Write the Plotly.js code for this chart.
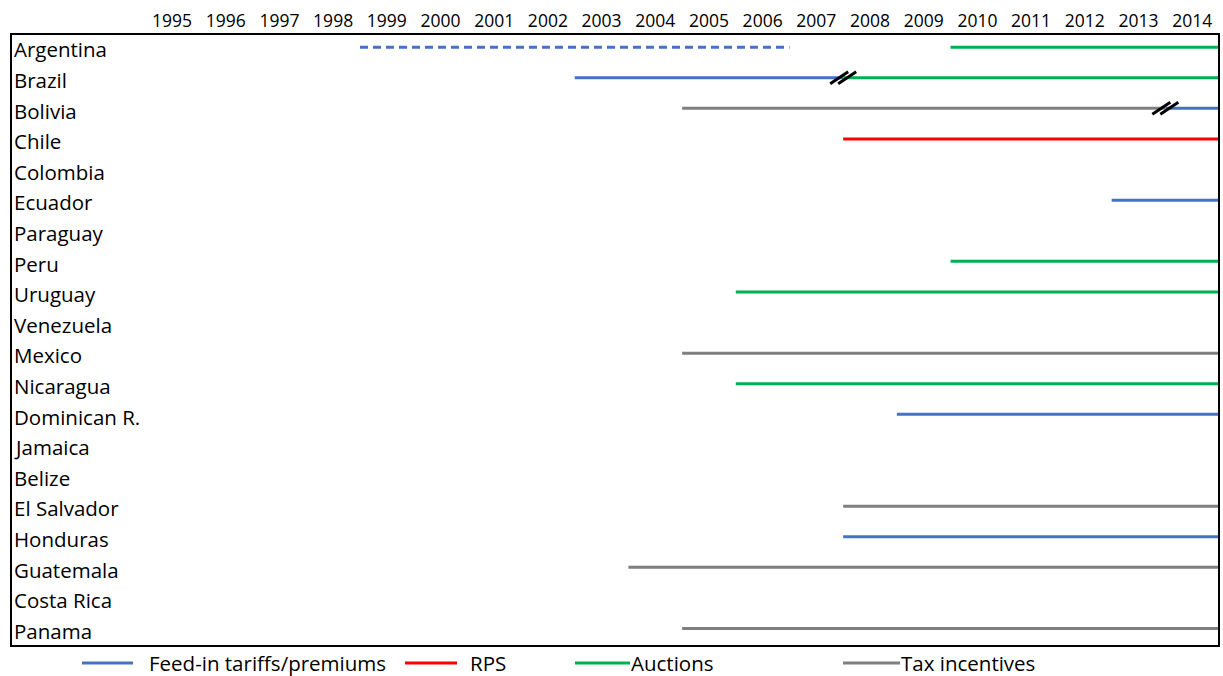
<!DOCTYPE html>
<html>
<head>
<meta charset="utf-8">
<script src="https://cdn.plot.ly/plotly-3.0.1.min.js"></script>
<style>html,body{margin:0;padding:0;background:#fff;}#chart{width:1223px;height:676px;}</style>
</head>
<body>
<div id="chart"></div>
<script>
// ---- data ----
const years = [1995,1996,1997,1998,1999,2000,2001,2002,2003,2004,2005,2006,2007,2008,2009,2010,2011,2012,2013,2014];
const countries = ["Argentina","Brazil","Bolivia","Chile","Colombia","Ecuador","Paraguay","Peru","Uruguay","Venezuela","Mexico","Nicaragua","Dominican R.","Jamaica","Belize","El Salvador","Honduras","Guatemala","Costa Rica","Panama"];
const policies = ["Feed-in tariffs/premiums","RPS","Auctions","Tax incentives"];
const segCountry = ["Argentina","Argentina","Brazil","Brazil","Bolivia","Bolivia","Chile","Ecuador","Peru","Uruguay","Mexico","Nicaragua","Dominican R.","El Salvador","Honduras","Guatemala","Panama"];
const segPolicy  = ["Feed-in tariffs/premiums","Auctions","Feed-in tariffs/premiums","Auctions","Tax incentives","Feed-in tariffs/premiums","RPS","Feed-in tariffs/premiums","Auctions","Auctions","Tax incentives","Auctions","Feed-in tariffs/premiums","Tax incentives","Feed-in tariffs/premiums","Tax incentives","Tax incentives"];
const segStart   = [1999,2010,2003,2008,2005,2014,2008,2013,2010,2006,2005,2006,2009,2008,2008,2004,2005];
const segEnd     = [2006,2014,2007,2014,2013,2014,2014,2014,2014,2014,2014,2014,2014,2014,2014,2014,2014];
const segDiscontinued = [true,false,false,false,false,false,false,false,false,false,false,false,false,false,false,false,false];
const breakCountry = ["Brazil","Bolivia"];
const breakYear    = [2008,2014];

// ---- styles ----
const colors = {"Feed-in tariffs/premiums":"#4472C4","RPS":"#FF0000","Auctions":"#00B050","Tax incentives":"#7F7F7F"};
const FONT = "'Open Sans', sans-serif";
const LABEL_SIZE = 20.5;
const lineOffset = -0.07;
const W = 1223, H = 676;
const M = {l:11, r:4, t:34, b:30};
const plotW = W - M.l - M.r, plotH = H - M.t - M.b;
const xRange = [1992, 2014.5], yRange = [19.5, -0.5];
const pxPerYear = plotW / (xRange[1]-xRange[0]);
const pxPerRow = plotH / 20;

const traces = [];
policies.forEach(p => {
  [false, true].forEach(disc => {
    const xs = [], ys = [];
    segCountry.forEach((c, i) => {
      if (segPolicy[i] !== p || segDiscontinued[i] !== disc) return;
      const r = countries.indexOf(c) + lineOffset;
      xs.push(segStart[i] - 0.5, segEnd[i] + 0.5, null);
      ys.push(r, r, null);
    });
    if (xs.length) traces.push({
      x: xs, y: ys, type: 'scatter', mode: 'lines', hoverinfo: 'skip', showlegend: false,
      line: {color: colors[p], width: 3, dash: disc ? '8px,5px' : 'solid'}
    });
  });
});
// break marks
const bx = [], by = [];
const halfW = 9 / pxPerYear, halfH = 6 / pxPerRow, gap = 4 / pxPerYear;
breakCountry.forEach((c, i) => {
  const r = countries.indexOf(c) + lineOffset;
  const x0 = breakYear[i] - 0.5;
  [-gap, gap].forEach(g => {
    bx.push(x0 + g - halfW, x0 + g + halfW, null);
    by.push(r + halfH, r - halfH, null);
  });
});
traces.push({x: bx, y: by, type: 'scatter', mode: 'lines', hoverinfo: 'skip', showlegend: false,
  line: {color: '#000', width: 3}});

const annotations = countries.map((c, i) => ({
  text: c, xref: 'paper', x: 0, xanchor: 'left', xshift: 1, yref: 'y', y: i, yanchor: 'middle',
  showarrow: false, font: {family: FONT, size: LABEL_SIZE, color: '#000'}
}));

// legend (custom)
const legendPos = [
  {x0: 82, x1: 133, tx: 147},
  {x0: 405, x1: 457, tx: 468},
  {x0: 575, x1: 630, tx: 629},
  {x0: 843, x1: 900, tx: 899}
];
const legY = 663;
const px2paperX = px => (px - M.l) / plotW;
const px2paperY = py => (H - M.b - py) / plotH;
const shapes = [{type: 'rect', xref: 'paper', yref: 'paper', x0: 0, x1: 1, y0: 0, y1: 1, line: {color: '#000', width: 2}}];
policies.forEach((p, i) => {
  const lp = legendPos[i];
  shapes.push({type: 'line', xref: 'paper', yref: 'paper', x0: px2paperX(lp.x0), x1: px2paperX(lp.x1),
    y0: px2paperY(legY), y1: px2paperY(legY), line: {color: colors[p], width: 3}});
  annotations.push({text: p, xref: 'paper', yref: 'paper', x: px2paperX(lp.tx), y: px2paperY(legY),
    xanchor: 'left', yanchor: 'middle', showarrow: false, font: {family: FONT, size: LABEL_SIZE, color: '#000'}});
});

const layout = {
  width: W, height: H, margin: M, paper_bgcolor: '#fff', plot_bgcolor: '#fff',
  showlegend: false,
  xaxis: {range: xRange, side: 'top', tickvals: years, ticktext: years.map(String), showgrid: false, zeroline: false,
    showline: false, ticks: '', ticklabelstandoff: 3, tickfont: {family: FONT, size: 17.5, color: '#000'}, fixedrange: true},
  yaxis: {range: yRange, showgrid: false, zeroline: false, showticklabels: false, showline: false, ticks: '', fixedrange: true},
  shapes: shapes, annotations: annotations
};
Plotly.newPlot('chart', traces, layout, {displayModeBar: false, staticPlot: true});
</script>
</body>
</html>
